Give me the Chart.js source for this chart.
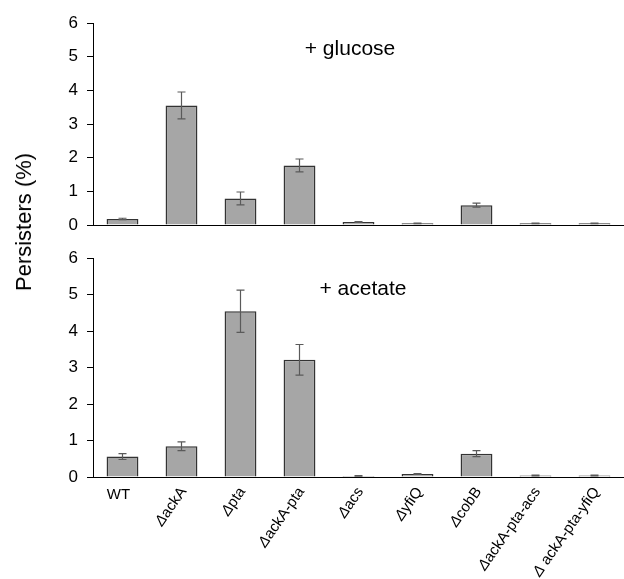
<!DOCTYPE html>
<html>
<head>
<meta charset="utf-8">
<script src="https://cdn.jsdelivr.net/npm/chart.js@4.4.1/dist/chart.umd.min.js"></script>
<style>
  html, body { margin: 0; padding: 0; background: #fff; }
  #wrap { position: relative; width: 624px; height: 579px; font-family: 'Liberation Sans', Arial, sans-serif; }
  .box { position: absolute; left: 0; width: 624px; }
  #ytitle { position: absolute; left: 24px; top: 222px; transform: translate(-50%, -50%) rotate(-90deg); font-size: 22px; white-space: nowrap; color: #000; }
</style>
</head>
<body>
<div id="wrap">
  <div class="box" style="top:0;height:240px"><canvas id="c1"></canvas></div>
  <div class="box" style="top:240px;height:339px"><canvas id="c2"></canvas></div>
  <div id="ytitle">Persisters (%)</div>
</div>
<script>
// ---- data ----
const categories = ['WT', 'ackA', 'pta', 'ackA-pta', 'acs', 'yfiQ', 'cobB', 'ackA-pta-acs', ' ackA-pta-yfiQ'];
const deltaPrefix = [false, true, true, true, true, true, true, true, true];
const glucoseValues = [0.18, 3.55, 0.79, 1.77, 0.09, 0.05, 0.59, 0.05, 0.05];
const glucoseErrors = [0.02, 0.40, 0.19, 0.19, 0.01, 0.01, 0.06, 0.01, 0.01];
const acetateValues = [0.56, 0.84, 4.54, 3.21, 0.03, 0.08, 0.64, 0.04, 0.04];
const acetateErrors = [0.08, 0.12, 0.58, 0.42, 0.01, 0.01, 0.08, 0.01, 0.01];
const yTicks = [0, 1, 2, 3, 4, 5, 6];

const FONT = "'Liberation Sans', Arial, sans-serif";

const errorBarPlugin = {
  id: 'errorBars',
  afterDatasetsDraw(chart, args, opts) {
    const ctx = chart.ctx;
    const meta = chart.getDatasetMeta(0);
    const ys = chart.scales.y;
    ctx.save();
    ctx.strokeStyle = '#5a5a5a';
    ctx.lineWidth = 1.2;
    opts.errors.forEach((e, i) => {
      const v = chart.data.datasets[0].data[i];
      const x = meta.data[i].x;
      const yt = ys.getPixelForValue(v + e);
      const yb = ys.getPixelForValue(Math.max(0, v - e));
      ctx.beginPath();
      ctx.moveTo(x, yt); ctx.lineTo(x, yb);
      ctx.moveTo(x - 4, yt); ctx.lineTo(x + 4, yt);
      ctx.moveTo(x - 4, yb); ctx.lineTo(x + 4, yb);
      ctx.stroke();
    });
    ctx.restore();
  }
};

const panelTextPlugin = {
  id: 'panelText',
  afterDraw(chart, args, opts) {
    const ctx = chart.ctx;
    ctx.save();
    ctx.font = '21px ' + FONT;
    ctx.fillStyle = '#000';
    ctx.textAlign = 'center';
    ctx.textBaseline = 'alphabetic';
    ctx.fillText(opts.text, opts.x, opts.y);
    ctx.restore();
  }
};

const xLabelPlugin = {
  id: 'xLabels',
  afterDraw(chart, args, opts) {
    if (!opts.show) return;
    const ctx = chart.ctx;
    const xs = chart.scales.x;
    const base = chart.chartArea.bottom;
    ctx.save();
    ctx.fillStyle = '#000';
    categories.forEach((lab, i) => {
      const cx = xs.getPixelForValue(i);
      if (!deltaPrefix[i]) {
        ctx.font = '15px ' + FONT;
        ctx.textAlign = 'center';
        ctx.textBaseline = 'top';
        ctx.fillText(lab, cx - 4, base + 10);
        return;
      }
      ctx.save();
      ctx.translate(cx + 2, base + 12);
      ctx.rotate(-55 * Math.PI / 180);
      ctx.textBaseline = 'middle';
      ctx.font = '15px ' + FONT;
      const wRest = ctx.measureText(lab).width;
      ctx.textAlign = 'right';
      ctx.fillText(lab, 0, 0);
      ctx.font = 'italic 15px ' + FONT;
      ctx.fillText('\u0394', -wRest, 0);
      ctx.restore();
    });
    ctx.restore();
  }
};

function makeOptions(padTop, padBottom, text, tx, ty, errors, showX) {
  return {
    responsive: true,
    maintainAspectRatio: false,
    animation: false,
    layout: { padding: { left: 53, right: 0, top: padTop, bottom: padBottom } },
    plugins: {
      legend: { display: false },
      tooltip: { enabled: false },
      errorBars: { errors: errors },
      panelText: { text: text, x: tx, y: ty },
      xLabels: { show: showX }
    },
    scales: {
      x: {
        type: 'category',
        offset: true,
        grid: { display: false, drawTicks: false },
        border: { display: true, color: '#000', width: 1 },
        ticks: { display: false },
        afterFit(s) { s.height = 0; s.paddingLeft = 0; s.paddingRight = 0; }
      },
      y: {
        min: 0, max: 6,
        afterBuildTicks(s) { s.ticks = yTicks.map(v => ({ value: v })); },
        grid: { display: true, drawOnChartArea: false, drawTicks: true, tickLength: 6, color: '#000', tickColor: '#000' },
        border: { display: true, color: '#000', width: 1 },
        ticks: { color: '#000', font: { family: FONT, size: 17 }, padding: 9 },
        afterFit(s) { s.width = 40; s.paddingTop = 0; s.paddingBottom = 0; }
      }
    }
  };
}

function dataset(values) {
  return {
    labels: categories,
    datasets: [{
      data: values,
      backgroundColor: '#a6a6a6',
      borderColor: '#333333',
      borderWidth: 1.5,
      barPercentage: 0.54,
      categoryPercentage: 1.0
    }]
  };
}

new Chart(document.getElementById('c1'), {
  type: 'bar',
  data: dataset(glucoseValues),
  options: makeOptions(23, 15, '+ glucose', 350, 55, glucoseErrors, false),
  plugins: [errorBarPlugin, panelTextPlugin, xLabelPlugin]
});

new Chart(document.getElementById('c2'), {
  type: 'bar',
  data: dataset(acetateValues),
  options: makeOptions(18, 102, '+ acetate', 363, 55, acetateErrors, true),
  plugins: [errorBarPlugin, panelTextPlugin, xLabelPlugin]
});
</script>
</body>
</html>
